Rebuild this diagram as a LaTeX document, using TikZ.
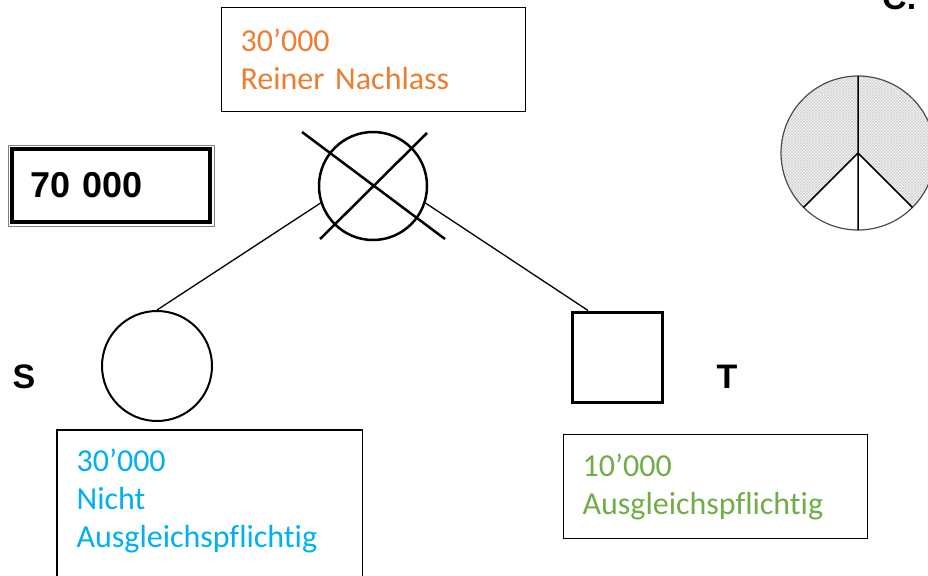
\documentclass[tikz,border=0pt]{standalone}
\usepackage{fontspec}
\setmainfont{Carlito}[Ligatures=NoCommon]
\newfontfamily\labelfont{Liberation Sans}
\usepackage{tikz}
\usetikzlibrary{shapes,calc,patterns}
\definecolor{nachlassorange}{RGB}{237,125,49}
\definecolor{sohnblue}{RGB}{0,176,240}
\definecolor{tochtergreen}{RGB}{112,173,71}
\tikzstyle{line} = [draw, line width=1.3pt]
\tikzstyle{textbox} = [draw, line width=1.2pt, rectangle, align=left, text width=266pt, inner xsep=19pt, minimum height=104pt, font=\fontsize{32}{38}\selectfont]
\tikzstyle{female} = [draw, circle, line width=2.5pt]
\tikzstyle{male} = [draw, rectangle, line width=3pt]
\tikzstyle{heirlabel} = [font=\labelfont\bfseries\fontsize{34}{40}\selectfont]

\begin{document}
\begin{tikzpicture}[x=1pt, y=-1pt]
        \useasboundingbox (0,0) rectangle (928,575);
        \clip (0,0) rectangle (928,575);
        % Erblasser und Erben
        \node[female, minimum size=108pt] (deceased) at (373,186) {};
        \draw[line width=2.5pt] ($(deceased)+(-71,-54)$) -- ($(deceased)+(72,53)$);
        \draw[line width=2.5pt] ($(deceased)+(54,-53)$) -- ($(deceased)+(-53,53)$);
        \node[female, line width=2pt, minimum size=110pt] (heirs) at (157,366) {};
        \node[male, minimum size=90pt] (heirt) at (617,357) {};
        \node[heirlabel] (lbls) at (24,377) {S};
        \node[heirlabel] (lblt) at (727,377) {T};
        \path[line] (deceased.198) -- (heirs.north);
        \path[line] (deceased.-18) -- ([xshift=-29pt]heirt.north);
        % Betraege
        \node[textbox, text=nachlassorange, anchor=north west] (estate) at (221,7) {30’000\\Reiner Nachlass};
        \node[textbox, draw=none, text=sohnblue, minimum height=140pt, anchor=north west] (shares) at (57,430) {30’000\\Nicht\\Ausgleichspflichtig};
        \draw[line width=1.2pt] ([yshift=-30pt]shares.south west) |- (shares.north east) -- ([yshift=-30pt]shares.south east);
        \node[textbox, text=tochtergreen, anchor=north west] (sharet) at (563,434) {10’000\\Ausgleichspflichtig};
        \node[draw, line width=4pt, minimum width=198pt, minimum height=73pt, text width=162pt, inner xsep=18pt, align=left, font=\labelfont\bfseries\fontsize{36}{40}\selectfont] (total) at (111,185.5) {70 000};
        \draw[gray, line width=1pt] ([xshift=-2pt,yshift=2pt]total.north west) rectangle ([xshift=2pt,yshift=-2pt]total.south east);
        % Kuchen
        \node[heirlabel, anchor=base west, inner sep=0pt] (lblc) at (882,10) {C.};
        \begin{scope}[shift={(858,153)}, y=1pt]
            \fill[gray!8] (0,0) -- (-45:77) arc[start angle=-45, end angle=225, radius=77] -- cycle;
            \fill[pattern=crosshatch, pattern color=gray!35] (0,0) -- (-45:77) arc[start angle=-45, end angle=225, radius=77] -- cycle;
            \draw[line width=1.2pt, black!70] (0,0) circle[radius=77];
            \draw[line width=1.5pt] (90:77) -- (-90:77) (0,0) -- (225:77) (0,0) -- (-45:77);
        \end{scope}
    \end{tikzpicture}
\end{document}
